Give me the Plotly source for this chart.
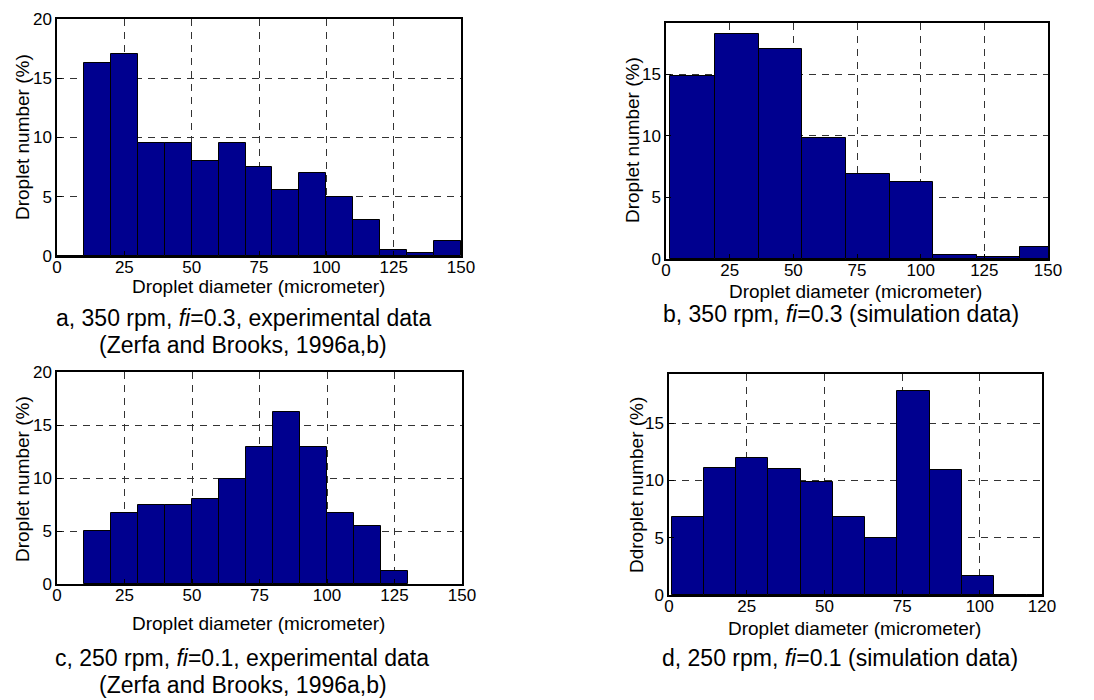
import numpy as np
import plotly.graph_objects as go

# --- data ------------------------------------------------------------------
# a: 350 rpm, fi=0.3, experimental (10 um bins)
a_edges = [0, 10, 20, 30, 40, 50, 60, 70, 80, 90, 100, 110, 120, 130, 140, 150]
a_values = [0, 16.3, 17.05, 9.5, 9.5, 8.0, 9.5, 7.5, 5.55, 7.0, 5.0, 3.0, 0.53, 0.28, 1.25]

# b: 350 rpm, fi=0.3, simulation (9 bins, last one clipped at 150)
b_edges = [1.7, 19.2, 36.5, 53.5, 70.6, 87.8, 104.9, 122.0, 139.1, 156.3]
b_values = [14.84, 18.3, 17.05, 9.86, 6.89, 6.24, 0.32, 0.19, 0.97]

# c: 250 rpm, fi=0.1, experimental
c_edges = [10, 20, 30, 40, 50, 60, 70, 80, 90, 100, 110, 120, 130]
c_values = [5.0, 6.72, 7.48, 7.48, 8.0, 9.95, 12.97, 16.26, 12.97, 6.72, 5.5, 1.22]

# d: 250 rpm, fi=0.1, simulation
d_edges = [0.86, 11.26, 21.6, 32.0, 42.4, 52.7, 63.0, 73.5, 83.9, 94.3, 104.7, 115.1, 125.5]
d_values = [6.77, 11.13, 12.0, 11.02, 9.88, 6.83, 4.94, 17.79, 10.96, 1.63, 0, 0]

x_title = "Droplet diameter (micrometer)"
captions = {
    "a": ["a, 350 rpm, <i>fi</i>=0.3, experimental data", "(Zerfa and Brooks, 1996a,b)"],
    "b": ["b, 350 rpm, <i>fi</i>=0.3 (simulation data)"],
    "c": ["c, 250 rpm, <i>fi</i>=0.1, experimental data", "(Zerfa and Brooks, 1996a,b)"],
    "d": ["d, 250 rpm, <i>fi</i>=0.1 (simulation data)"],
}
y_titles = {
    "a": "Droplet number (%)",
    "b": "Droplet number (%)",
    "c": "Droplet number (%)",
    "d": "Ddroplet number (%)",
}

W, H = 1094, 700
OFF = 8  # the page body adds an 8px margin around the plot div
FONT = "Arial, Liberation Sans, sans-serif"
BAR = "#00008F"


def px_x(v):
    return (v - OFF) / W


def px_y(v):
    return 1 - (v - OFF) / H


# panel boxes in screen pixels: (left, right, top, bottom)
panels = {
    "a": dict(box=(57, 461, 19, 256), xr=[0, 150], yr=[0, 20],
              xt=[0, 25, 50, 75, 100, 125, 150], yt=[0, 5, 10, 15, 20],
              edges=a_edges, vals=a_values,
              ytit=(22, 137), xtit=(258, 286), cap=[(243, 318), (243, 345)]),
    "b": dict(box=(666, 1048, 23, 259), xr=[0, 150], yr=[0, 19.16],
              xt=[0, 25, 50, 75, 100, 125, 150], yt=[0, 5, 10, 15],
              edges=b_edges, vals=b_values,
              ytit=(632, 140), xtit=(855, 291), cap=[(841, 314)]),
    "c": dict(box=(57, 462, 372, 584), xr=[0, 150], yr=[0, 20],
              xt=[0, 25, 50, 75, 100, 125, 150], yt=[0, 5, 10, 15, 20],
              edges=c_edges, vals=c_values,
              ytit=(22, 479), xtit=(258, 623), cap=[(242, 658), (243, 685)]),
    "d": dict(box=(669, 1042, 374, 595), xr=[0, 120], yr=[0, 19.3],
              xt=[0, 25, 50, 75, 100, 120], yt=[0, 5, 10, 15],
              edges=d_edges, vals=d_values,
              ytit=(637, 485), xtit=(854, 628), cap=[(840, 658)]),
}

fig = go.Figure()
layout = {}
annotations = []

axis_common = dict(
    showline=True,
    linecolor="black",
    linewidth=1.5,
    mirror=True,
    ticks="inside",
    ticklen=5,
    tickcolor="black",
    showgrid=True,
    gridcolor="#333333",
    gridwidth=1,
    griddash="7px,6px",
    zeroline=False,
    automargin=False,
    tickfont={"family": FONT, "size": 17, "color": "black"},
    fixedrange=True,
)

for i, (key, p) in enumerate(panels.items(), start=1):
    sfx = "" if i == 1 else str(i)
    edges = np.asarray(p["edges"], dtype=float)
    centers = (edges[:-1] + edges[1:]) / 2
    widths = np.diff(edges)
    fig.add_trace(
        go.Bar(
            x=centers,
            y=p["vals"],
            width=widths,
            marker={"color": BAR, "line": {"color": "black", "width": 1}},
            xaxis=f"x{sfx}",
            yaxis=f"y{sfx}",
            showlegend=False,
            hoverinfo="skip",
        )
    )
    l, r, t, b = p["box"]
    layout[f"xaxis{sfx}"] = dict(
        axis_common,
        domain=[px_x(l), px_x(r)],
        range=p["xr"],
        tickvals=p["xt"],
        ticklabelstandoff=-5,
        anchor=f"y{sfx}",
    )
    layout[f"yaxis{sfx}"] = dict(
        axis_common,
        domain=[px_y(b), px_y(t)],
        range=p["yr"],
        tickvals=p["yt"],
        anchor=f"x{sfx}",
    )

    tx, ty = p["ytit"]
    annotations.append(dict(
        text=y_titles[key], x=px_x(tx), y=px_y(ty), xref="paper", yref="paper",
        textangle=-90, showarrow=False, xanchor="center", yanchor="middle",
        font={"family": FONT, "size": 19, "color": "black"},
    ))
    tx, ty = p["xtit"]
    annotations.append(dict(
        text=x_title, x=px_x(tx), y=px_y(ty), xref="paper", yref="paper",
        showarrow=False, xanchor="center", yanchor="middle",
        font={"family": FONT, "size": 19, "color": "black"},
    ))
    for line, (cx, cy) in zip(captions[key], p["cap"]):
        annotations.append(dict(
            text=line, x=px_x(cx), y=px_y(cy), xref="paper", yref="paper",
            showarrow=False, xanchor="center", yanchor="middle",
            font={"family": FONT, "size": 23, "color": "black"},
        ))

fig.update_layout(
    width=W,
    height=H,
    margin={"l": 0, "r": 0, "t": 0, "b": 0},
    paper_bgcolor="white",
    plot_bgcolor="white",
    bargap=0,
    annotations=annotations,
    **layout,
)

fig.write_html("out.html")
